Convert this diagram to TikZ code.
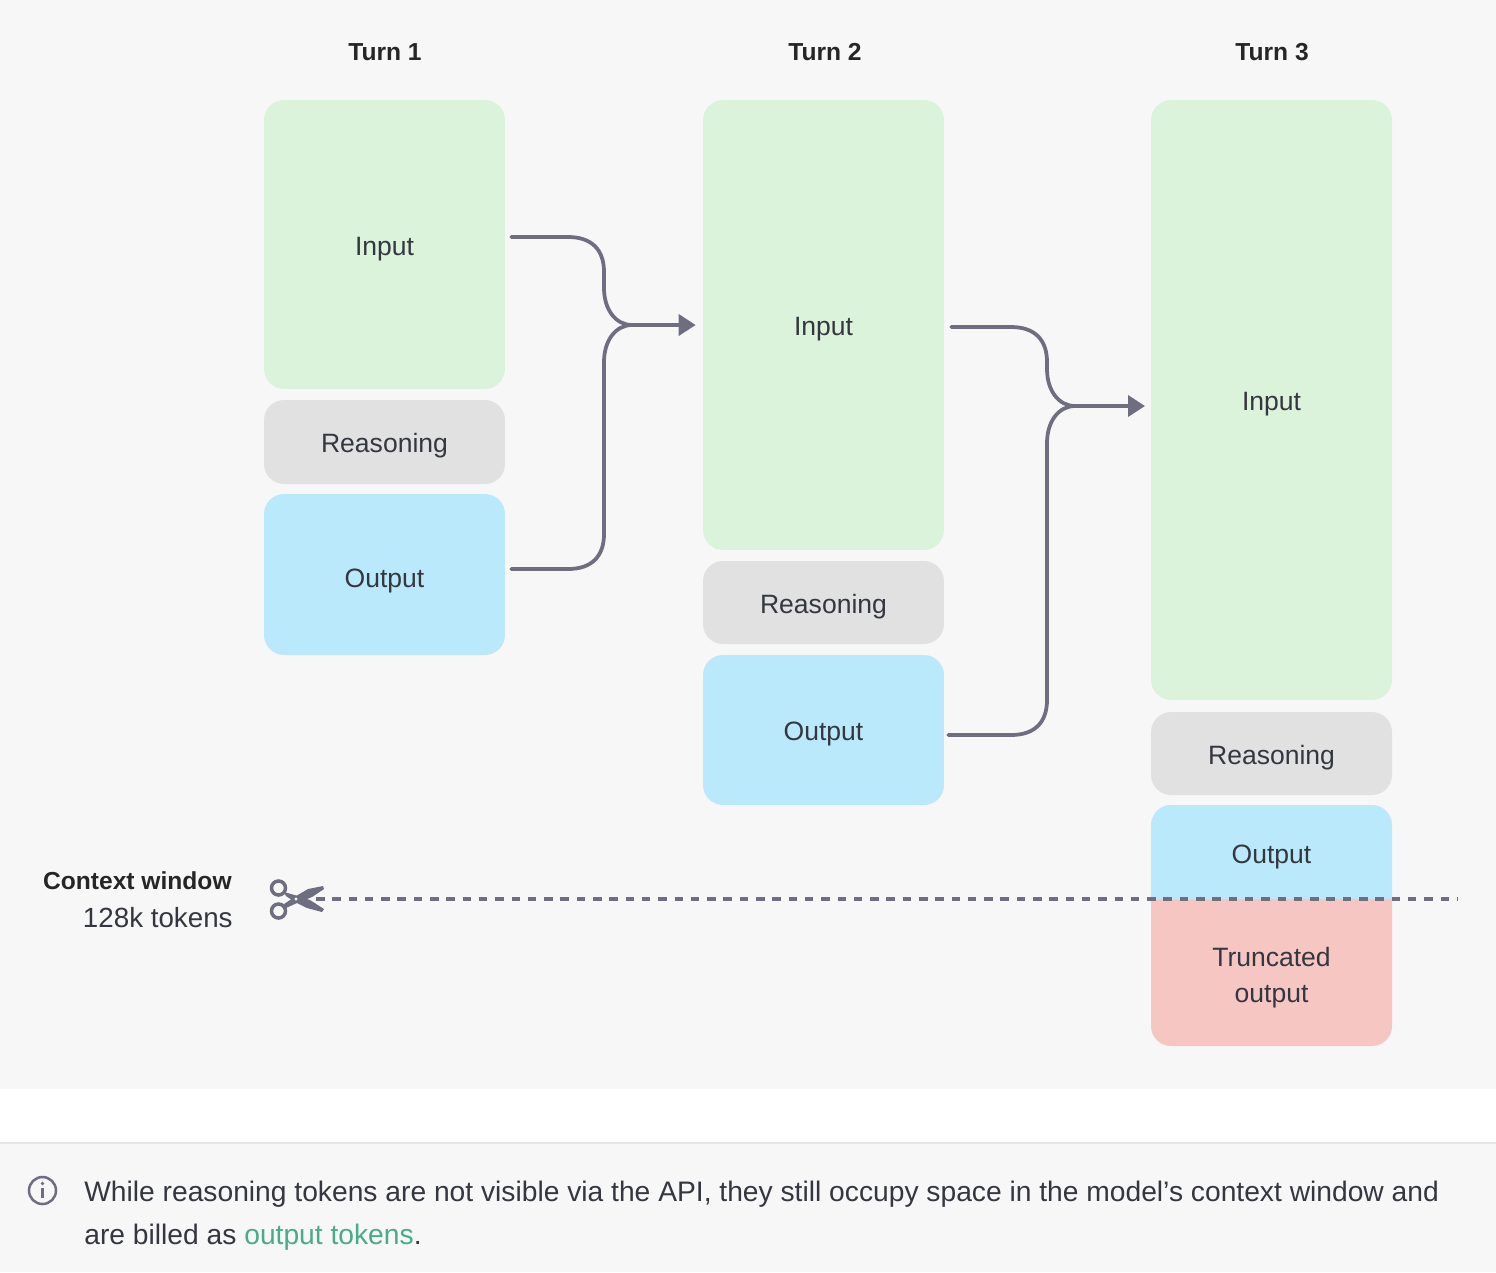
\documentclass[tikz,border=0pt]{standalone}
\usepackage{fontspec}
\setmainfont{Liberation Sans}
\usepackage{xcolor}
\usetikzlibrary{arrows.meta, positioning, calc}

\definecolor{panelgray}{HTML}{F7F7F8}
\definecolor{inputgreen}{HTML}{DBF3DB}
\definecolor{reasongray}{HTML}{E1E1E1}
\definecolor{outputblue}{HTML}{BAE9FB}
\definecolor{truncred}{HTML}{F6C6C2}
\definecolor{flowgray}{HTML}{6E6E80}
\definecolor{inkgray}{HTML}{353740}
\definecolor{linkgreen}{HTML}{4AAB88}

\tikzset{
    tokenbox/.style={rectangle,rounded corners=0.4cm,minimum width=4.82cm,inner sep=0pt,text=inkgray,font=\fontsize{15.1}{20}\selectfont,align=center,text height=0.42cm,text depth=0pt},
    inputbox/.style={tokenbox,fill=inputgreen},
    reasonbox/.style={tokenbox,fill=reasongray},
    outputbox/.style={tokenbox,fill=outputblue},
    boxlabel/.style={text=inkgray,font=\fontsize{15.1}{20.4}\selectfont,align=center,inner sep=0pt},
    turnlabel/.style={text=black!85,font=\fontsize{14}{18}\selectfont\bfseries,inner sep=0pt},
    flowline/.style={draw=flowgray,line width=0.075cm,line cap=round},
    flowarrow/.style={flowline,line cap=butt,-{Triangle[length=0.34cm,width=0.42cm]},shorten >=0.14cm},
    cutline/.style={draw=flowgray,line width=0.075cm,dash pattern=on 0.17cm off 0.156cm}
}

\begin{document}
\begin{tikzpicture}[x=0.02cm,y=-0.02cm]
    \useasboundingbox (0,0) rectangle (1496,1272);
    \fill[panelgray] (0,0) rectangle (1496,1089);
    \fill[panelgray] (0,1143) rectangle (1496,1272);
    \draw[black!10,line width=0.03cm] (0,1143) -- (1496,1143);

    \node[turnlabel] (turna) at (385,52) {Turn 1};
    \node[turnlabel] (turnb) at (825,52) {Turn 2};
    \node[turnlabel] (turnc) at (1272,52) {Turn 3};

    % turn 1
    \node[inputbox,minimum height=5.78cm] (inputa) at (384.5,244.5) {Input};
    \node[reasonbox,minimum height=1.68cm] (reasona) at (384.5,442) {Reasoning};
    \node[outputbox,minimum height=3.22cm,text height=0.5cm] (outputa) at (384.5,574.5) {Output};

    % turn 2
    \node[inputbox,minimum height=9.0cm] (inputb) at (823.5,325) {Input};
    \node[reasonbox,minimum height=1.66cm] (reasonb) at (823.5,602.5) {Reasoning};
    \node[outputbox,minimum height=3.0cm] (outputb) at (823.5,730) {Output};

    % turn 3
    \node[inputbox,minimum height=12.0cm] (inputc) at (1271.5,400) {Input};
    \node[reasonbox,minimum height=1.66cm] (reasonc) at (1271.5,753.5) {Reasoning};
    \fill[outputblue,rounded corners=0.4cm] (1151,899) -- (1151,805) -- (1392,805) -- (1392,899);
    \fill[truncred,rounded corners=0.4cm] (1151,899) -- (1151,1046) -- (1392,1046) -- (1392,899);
    \node[boxlabel] (outputc) at (1271.5,856.5) {Output};
    \node[boxlabel] (truncc) at (1271.5,978) {Truncated\\output};

    % arrows between the turns
    \coordinate (froma) at ($(inputa.east)+(6,-7.5)$);
    \coordinate (fromb) at ($(outputa.east)+(6,-5.5)$);
    \coordinate (joina) at (632,325);
    \draw[flowline] (froma) -- (568,237) .. controls (592,237) and (604,250) .. (604,272) -- (604,288) .. controls (604,310) and (616,325) .. (joina);
    \draw[flowline] (fromb) -- (568,569) .. controls (592,569) and (604,556) .. (604,534) -- (604,362) .. controls (604,340) and (616,325) .. (joina);
    \draw[flowarrow] (joina) -- (inputb.west);

    \coordinate (fromc) at ($(inputb.east)+(7,2)$);
    \coordinate (fromd) at ($(outputb.east)+(4,5)$);
    \coordinate (joinb) at (1075,406);
    \draw[flowline] (fromc) -- (1011,327) .. controls (1035,327) and (1047,340) .. (1047,362) -- (1047,369) .. controls (1047,391) and (1059,406) .. (joinb);
    \draw[flowline] (fromd) -- (1011,735) .. controls (1035,735) and (1047,722) .. (1047,700) -- (1047,443) .. controls (1047,421) and (1059,406) .. (joinb);
    \coordinate (tipb) at (1152,406);
    \draw[flowarrow] (joinb) -- (tipb);

    % context window
    \node[turnlabel,anchor=east] (ctxname) at (232,881) {Context window};
    \node[boxlabel,anchor=east,font=\fontsize{15.8}{20.4}\selectfont] (ctxsize) at (233,918) {128k tokens};
    \coordinate (cutstart) at (316,899);
    \coordinate (cutend) at (1458,899);
    \draw[cutline] (cutstart) -- (cutend);

    % scissors
    \draw[flowgray,line width=0.07cm] (278.5,888) circle (7);
    \draw[flowgray,line width=0.07cm] (278.5,911) circle (7);
    \fill[flowgray] (284,904) -- (296,896) -- (308,889) -- (323,886) -- (324,889) -- (312,897) -- (297,903) -- (286,908) -- cycle;
    \fill[flowgray] (284,892) -- (298,896) -- (310,900) -- (324,909) -- (322,912) -- (307,908) -- (295,902) -- (286,896) -- cycle;
    \fill[panelgray] (296,899) circle (1.6);

    % note
    \draw[flowgray,line width=0.05cm] (42.5,1190.5) circle (13.5);
    \fill[flowgray] (41,1188) rectangle (44,1198);
    \fill[flowgray] (42.5,1183.5) circle (1.8);
    \node[anchor=north west,inner sep=0pt,text=inkgray,align=left,font=\fontsize{16.06}{24.4}\selectfont] (note) at (84,1181) {While reasoning tokens are not visible via the API, they still occupy space in the model's context window and\\are billed as \textcolor{linkgreen}{output tokens}.};
\end{tikzpicture}
\end{document}
